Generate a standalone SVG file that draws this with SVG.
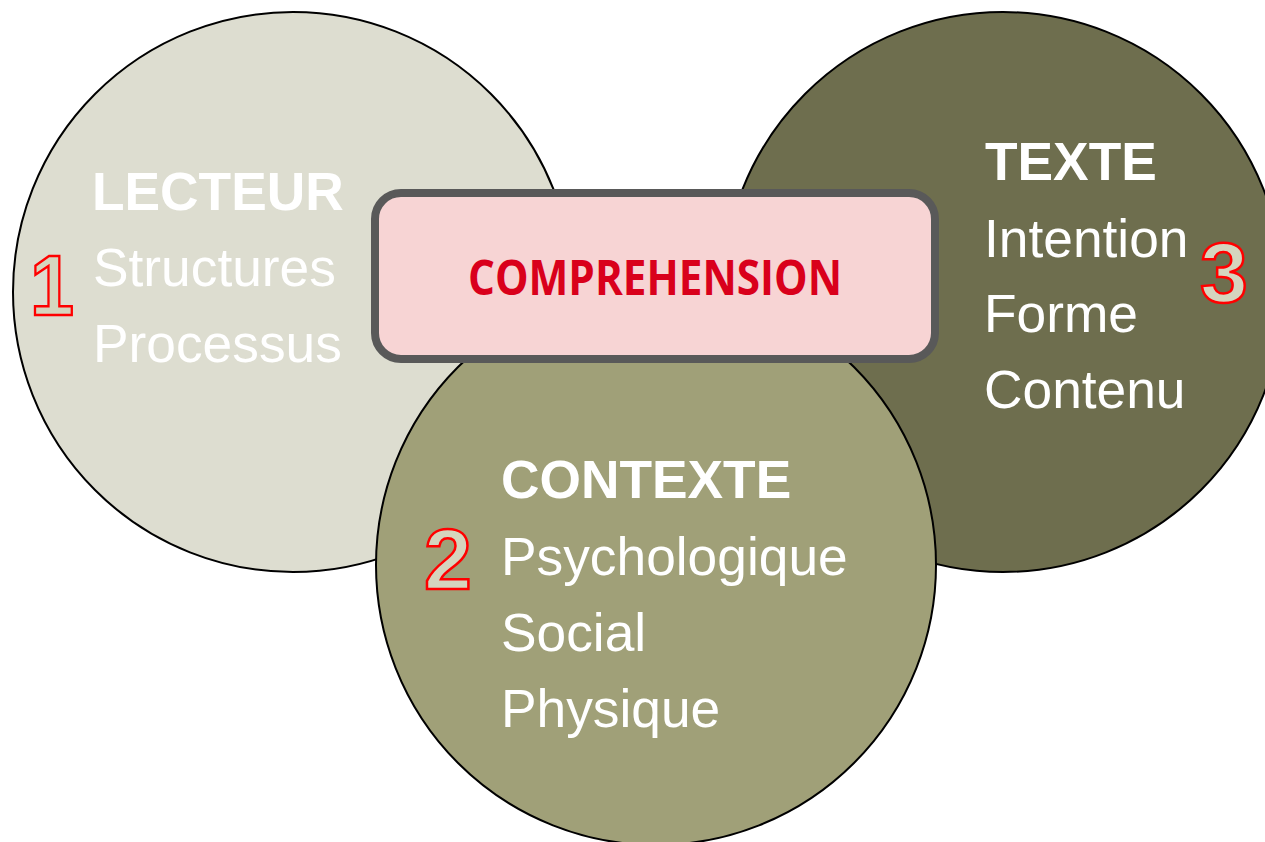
<svg xmlns="http://www.w3.org/2000/svg" width="1265" height="842" viewBox="0 0 1265 842">
<style>
.c{stroke:#000;stroke-width:2}
.t{font-family:"Liberation Sans",Arial,sans-serif;font-size:53.3px;fill:#fff}
.b{font-weight:bold}
.n{font-family:"Liberation Sans",Arial,sans-serif;font-weight:bold;font-size:86px;fill:#D5D5BE;stroke:#F00;stroke-width:2.5}
</style>
<rect width="1265" height="842" fill="#fff"/>
<g id="lecteur">
<circle class="c" cx="293" cy="292" r="280" fill="#DDDDD0"/>
<text class="t b" x="92" y="210">LECTEUR</text>
<text class="t" x="93" y="286">Structures</text>
<text class="t" x="93" y="362">Processus</text>
<text class="n" x="30" y="315" textLength="44" lengthAdjust="spacingAndGlyphs">1</text>
</g>
<g id="texte">
<circle class="c" cx="1003" cy="292" r="280" fill="#6E6E4E"/>
<text class="t b" x="985" y="180">TEXTE</text>
<text class="t" x="984" y="257">Intention</text>
<text class="t" x="984" y="332">Forme</text>
<text class="t" x="984" y="408">Contenu</text>
<text class="n" x="1200" y="302">3</text>
</g>
<g id="contexte">
<circle class="c" cx="656" cy="565" r="280" fill="#A0A078"/>
<text class="t b" x="501" y="498">CONTEXTE</text>
<text class="t" x="501" y="575">Psychologique</text>
<text class="t" x="501" y="651">Social</text>
<text class="t" x="501" y="727">Physique</text>
<text class="n" x="424" y="589">2</text>
</g>
<g id="comprehension">
<rect x="375" y="193" width="560" height="166" rx="26" fill="#F7D4D4" stroke="#595959" stroke-width="8"/>
<text x="655" y="295" text-anchor="middle" textLength="374" lengthAdjust="spacingAndGlyphs" font-family="'Open Sans','Noto Sans',sans-serif" font-weight="bold" font-size="48" fill="#D9001B">COMPREHENSION</text>
</g>
<g id="connectors"/>
</svg>
